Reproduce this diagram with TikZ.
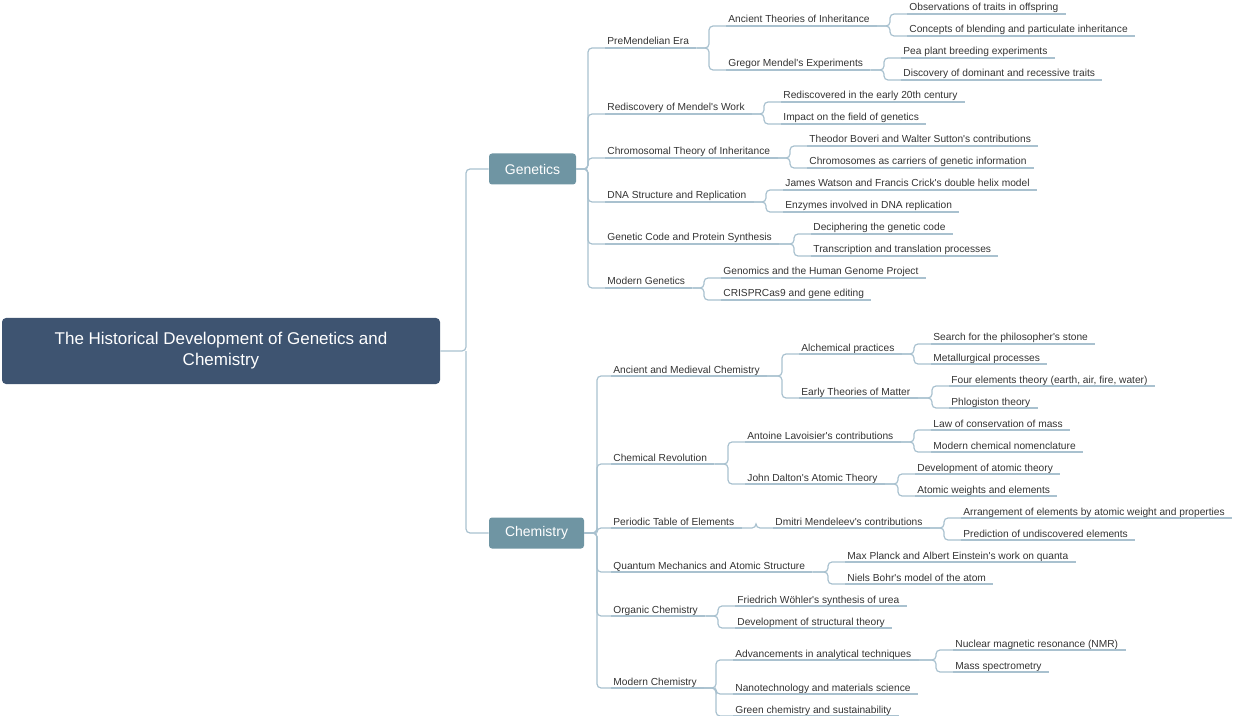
\documentclass[tikz,border=0pt]{standalone}
\usepackage{fontspec}
\setmainfont{Liberation Sans}
\usetikzlibrary{calc}
\definecolor{linkc}{HTML}{A9C1CF}
\definecolor{txtc}{HTML}{333333}
\definecolor{rootc}{HTML}{3E5471}
\definecolor{boxc}{HTML}{6F95A3}
\tikzset{
  topic/.style={anchor=base west, inner sep=0pt, text=txtc, font=\fontsize{5.1}{6}\selectfont,
    append after command={([xshift=-1pt,yshift=-1.5pt]\tikzlastnode.base west) edge[link] ([xshift=3.5pt,yshift=-1.5pt]\tikzlastnode.base east)}},
  link/.style={draw=linkc, line width=0.6pt, rounded corners=2pt},
  branch/.style={fill=boxc, rounded corners=1.5pt, text=white, font=\fontsize{7}{8}\selectfont, inner sep=0pt},
}
% connector from a topic's underline end to a child's underline start
\newcommand\tconn[2]{%
  \path ([xshift=3.5pt,yshift=-1.5pt]#1.base east) coordinate (pe)
        ([xshift=-1pt,yshift=-1.5pt]#2.base west) coordinate (cs)
        ([xshift=-9.5pt,yshift=-1.5pt]#2.base west) coordinate (tk);
  \draw[link] (pe) -- (tk |- pe) -- (tk) -- (cs);}
\newcommand\bconn[3]{%
  \path ([xshift=-1pt,yshift=-1.5pt]#2.base west) coordinate (cs);
  \draw[link] (#1.east) -- (#3,0 |- #1.east) -- (#3,0 |- cs) -- (cs);}
\begin{document}
\begin{tikzpicture}[x=0.5pt,y=-0.5pt]
\useasboundingbox (0,0) rectangle (1240,716);
% root and branches
\node[fill=rootc, rounded corners=2pt, text=white, font=\fontsize{8.5}{10.5}\selectfont, align=center,
  minimum width=219pt, minimum height=33pt, inner sep=0pt] (root) at (221,351)
  {The Historical Development of Genetics and\\Chemistry};
\node[branch, minimum width=43.5pt, minimum height=15.5pt] (gen) at (532.5,169) {Genetics};
\node[branch, minimum width=47.5pt, minimum height=15.5pt] (chem) at (536.5,533) {Chemistry};
\draw[link] (root.east) -- (466,351) -- (466,169) -- (gen.west);
\draw[link] (466,351) -- (466,533) -- (chem.west);
% genetics
\node[topic] (g1) at (607,45) {PreMendelian Era};
\node[topic] (g11) at (728,23) {Ancient Theories of Inheritance};
\node[topic] (g111) at (909,11) {Observations of traits in offspring};
\node[topic] (g112) at (909,33) {Concepts of blending and particulate inheritance};
\node[topic] (g12) at (728,67) {Gregor Mendel\textquotesingle s Experiments};
\node[topic] (g121) at (903,55) {Pea plant breeding experiments};
\node[topic] (g122) at (903,77) {Discovery of dominant and recessive traits};
\node[topic] (g2) at (607,111) {Rediscovery of Mendel\textquotesingle s Work};
\node[topic] (g21) at (783,99) {Rediscovered in the early 20th century};
\node[topic] (g22) at (783,121) {Impact on the field of genetics};
\node[topic] (g3) at (607,155) {Chromosomal Theory of Inheritance};
\node[topic] (g31) at (809,143) {Theodor Boveri and Walter Sutton\textquotesingle s contributions};
\node[topic] (g32) at (809,165) {Chromosomes as carriers of genetic information};
\node[topic] (g4) at (607,199) {DNA Structure and Replication};
\node[topic] (g41) at (785,187) {James Watson and Francis Crick\textquotesingle s double helix model};
\node[topic] (g42) at (785,209) {Enzymes involved in DNA replication};
\node[topic] (g5) at (607,241) {Genetic Code and Protein Synthesis};
\node[topic] (g51) at (813,231) {Deciphering the genetic code};
\node[topic] (g52) at (813,253) {Transcription and translation processes};
\node[topic] (g6) at (607,285) {Modern Genetics};
\node[topic] (g61) at (723,275) {Genomics and the Human Genome Project};
\node[topic] (g62) at (723,297) {CRISPRCas9 and gene editing};
% chemistry
\node[topic] (c1) at (613,373) {Ancient and Medieval Chemistry};
\node[topic] (c11) at (801,351) {Alchemical practices};
\node[topic] (c111) at (933,341) {Search for the philosopher\textquotesingle s stone};
\node[topic] (c112) at (933,361) {Metallurgical processes};
\node[topic] (c12) at (801,395) {Early Theories of Matter};
\node[topic] (c121) at (951,383) {Four elements theory (earth, air, fire, water)};
\node[topic] (c122) at (951,405) {Phlogiston theory};
\node[topic] (c2) at (613,461) {Chemical Revolution};
\node[topic] (c21) at (747,439) {Antoine Lavoisier\textquotesingle s contributions};
\node[topic] (c211) at (933,427) {Law of conservation of mass};
\node[topic] (c212) at (933,449) {Modern chemical nomenclature};
\node[topic] (c22) at (747,481) {John Dalton\textquotesingle s Atomic Theory};
\node[topic] (c221) at (917,471) {Development of atomic theory};
\node[topic] (c222) at (917,493) {Atomic weights and elements};
\node[topic] (c3) at (613,525) {Periodic Table of Elements};
\node[topic] (c31) at (775,525) {Dmitri Mendeleev\textquotesingle s contributions};
\node[topic] (c311) at (963,515) {Arrangement of elements by atomic weight and properties};
\node[topic] (c312) at (963,537) {Prediction of undiscovered elements};
\node[topic] (c4) at (613,569) {Quantum Mechanics and Atomic Structure};
\node[topic] (c41) at (847,559) {Max Planck and Albert Einstein\textquotesingle s work on quanta};
\node[topic] (c42) at (847,581) {Niels Bohr\textquotesingle s model of the atom};
\node[topic] (c5) at (613,613) {Organic Chemistry};
\node[topic] (c51) at (737,603) {Friedrich Wöhler\textquotesingle s synthesis of urea};
\node[topic] (c52) at (737,625) {Development of structural theory};
\node[topic] (c6) at (613,685) {Modern Chemistry};
\node[topic] (c61) at (735,657) {Advancements in analytical techniques};
\node[topic] (c611) at (955,647) {Nuclear magnetic resonance (NMR)};
\node[topic] (c612) at (955,669) {Mass spectrometry};
\node[topic] (c62) at (735,691) {Nanotechnology and materials science};
\node[topic] (c63) at (735,713) {Green chemistry and sustainability};
% connectors
\foreach \g in {g1,g2,g3,g4,g5,g6} \bconn{gen}{\g}{588};
\foreach \c in {c1,c2,c3,c4,c5,c6} \bconn{chem}{\c}{597};
\foreach \p/\q in {g1/g11,g1/g12,g11/g111,g11/g112,g12/g121,g12/g122,g2/g21,g2/g22,
  g3/g31,g3/g32,g4/g41,g4/g42,g5/g51,g5/g52,g6/g61,g6/g62,
  c1/c11,c1/c12,c11/c111,c11/c112,c12/c121,c12/c122,c2/c21,c2/c22,c21/c211,c21/c212,
  c22/c221,c22/c222,c3/c31,c31/c311,c31/c312,c4/c41,c4/c42,c5/c51,c5/c52,
  c6/c61,c6/c62,c6/c63,c61/c611,c61/c612} \tconn{\p}{\q};
\end{tikzpicture}
\end{document}
